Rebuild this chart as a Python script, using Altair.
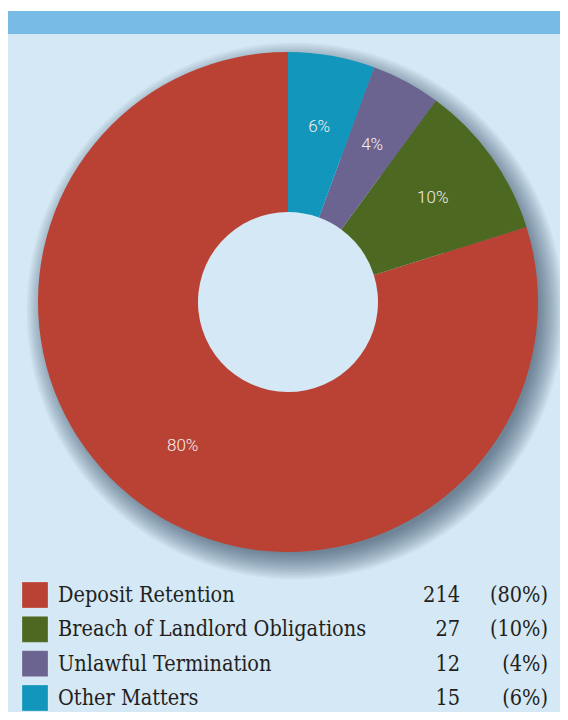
import altair as alt
import pandas as pd

# ---- data ----
categories = ["Deposit Retention", "Breach of Landlord Obligations",
              "Unlawful Termination", "Other Matters"]
counts = [214, 27, 12, 15]
pct_labels = ["80%", "10%", "4%", "6%"]
# clockwise order of the slices starting at 12 o'clock
slice_order = [3, 2, 1, 0]
colors = ["#b94234", "#4d6820", "#6b6491", "#1396bb"]

df = pd.DataFrame({
    "category": categories,
    "count": counts,
    "pct": pct_labels,
    "pct_paren": ["(" + p + ")" for p in pct_labels],
    "count_txt": [str(c) for c in counts],
    "order": slice_order,
})

W, H = 552, 704
CX, CY = 280, 294
R_OUT, R_IN, R_LAB = 250, 90, 178
BG = "#d5e8f5"
HEADER = "#78bce6"
SERIF = "DejaVu Serif Condensed, DejaVu Serif"

one = alt.Data(values=[{"k": 1}])

bg = alt.Chart(one).mark_rect(color=BG).encode(
    x=alt.value(0), x2=alt.value(W), y=alt.value(26), y2=alt.value(H))
header = alt.Chart(one).mark_rect(color=HEADER).encode(
    x=alt.value(0), x2=alt.value(W), y=alt.value(3), y2=alt.value(26))

# soft drop shadow approximated by stacked translucent rings
shadows = []
for i in range(18):
    shadows.append(
        alt.Chart(one).mark_arc(
            theta=0, theta2=6.2832, radius=R_OUT - 7 + 1.5 * i, radius2=160,
            color="#1c3550", opacity=0.04,
        ).encode(x=alt.value(CX + 7), y=alt.value(CY + 9))
    )

color = alt.Color("category:N", scale=alt.Scale(domain=categories, range=colors),
                  legend=None)

donut = alt.Chart(df).mark_arc(radius=R_OUT, radius2=R_IN).encode(
    theta=alt.Theta("count:Q", stack=True),
    order=alt.Order("order:Q"),
    color=color,
    x=alt.value(CX), y=alt.value(CY),
)

labels = alt.Chart(df).mark_text(
    radius=R_LAB, font="Roboto", fontWeight=300, fontSize=17, color="#f5eeee"
).encode(
    theta=alt.Theta("count:Q", stack=True),
    order=alt.Order("order:Q"),
    text="pct:N",
    x=alt.value(CX), y=alt.value(CY),
)

ly = alt.Y("category:N",
           scale=alt.Scale(domain=categories, range=[587, 690], padding=0),
           axis=None)

squares = alt.Chart(df).mark_square(
    size=676, opacity=1, stroke="#ffffff", strokeOpacity=0.25, strokeWidth=1
).encode(x=alt.value(27), y=ly, color=color)

txt = dict(baseline="middle", font=SERIF, fontSize=21.5, color="#231f20", dy=1)

names = alt.Chart(df).mark_text(align="left", **txt).encode(
    x=alt.value(50), y=ly, text="category:N")

nums = alt.Chart(df).mark_text(align="right", **txt).encode(
    x=alt.value(452), y=ly, text="count_txt:N")

pcts = alt.Chart(df).mark_text(align="right", **txt).encode(
    x=alt.value(540), y=ly, text="pct_paren:N")

chart = alt.layer(bg, header, *shadows, donut, labels, squares, names, nums, pcts).properties(
    width=W, height=H, padding=0, autosize=alt.AutoSizeParams(type="none"),
    background="#ffffff",
).configure_view(stroke=None)

chart.save("out.html", embed_options={"renderer": "svg", "actions": False})
